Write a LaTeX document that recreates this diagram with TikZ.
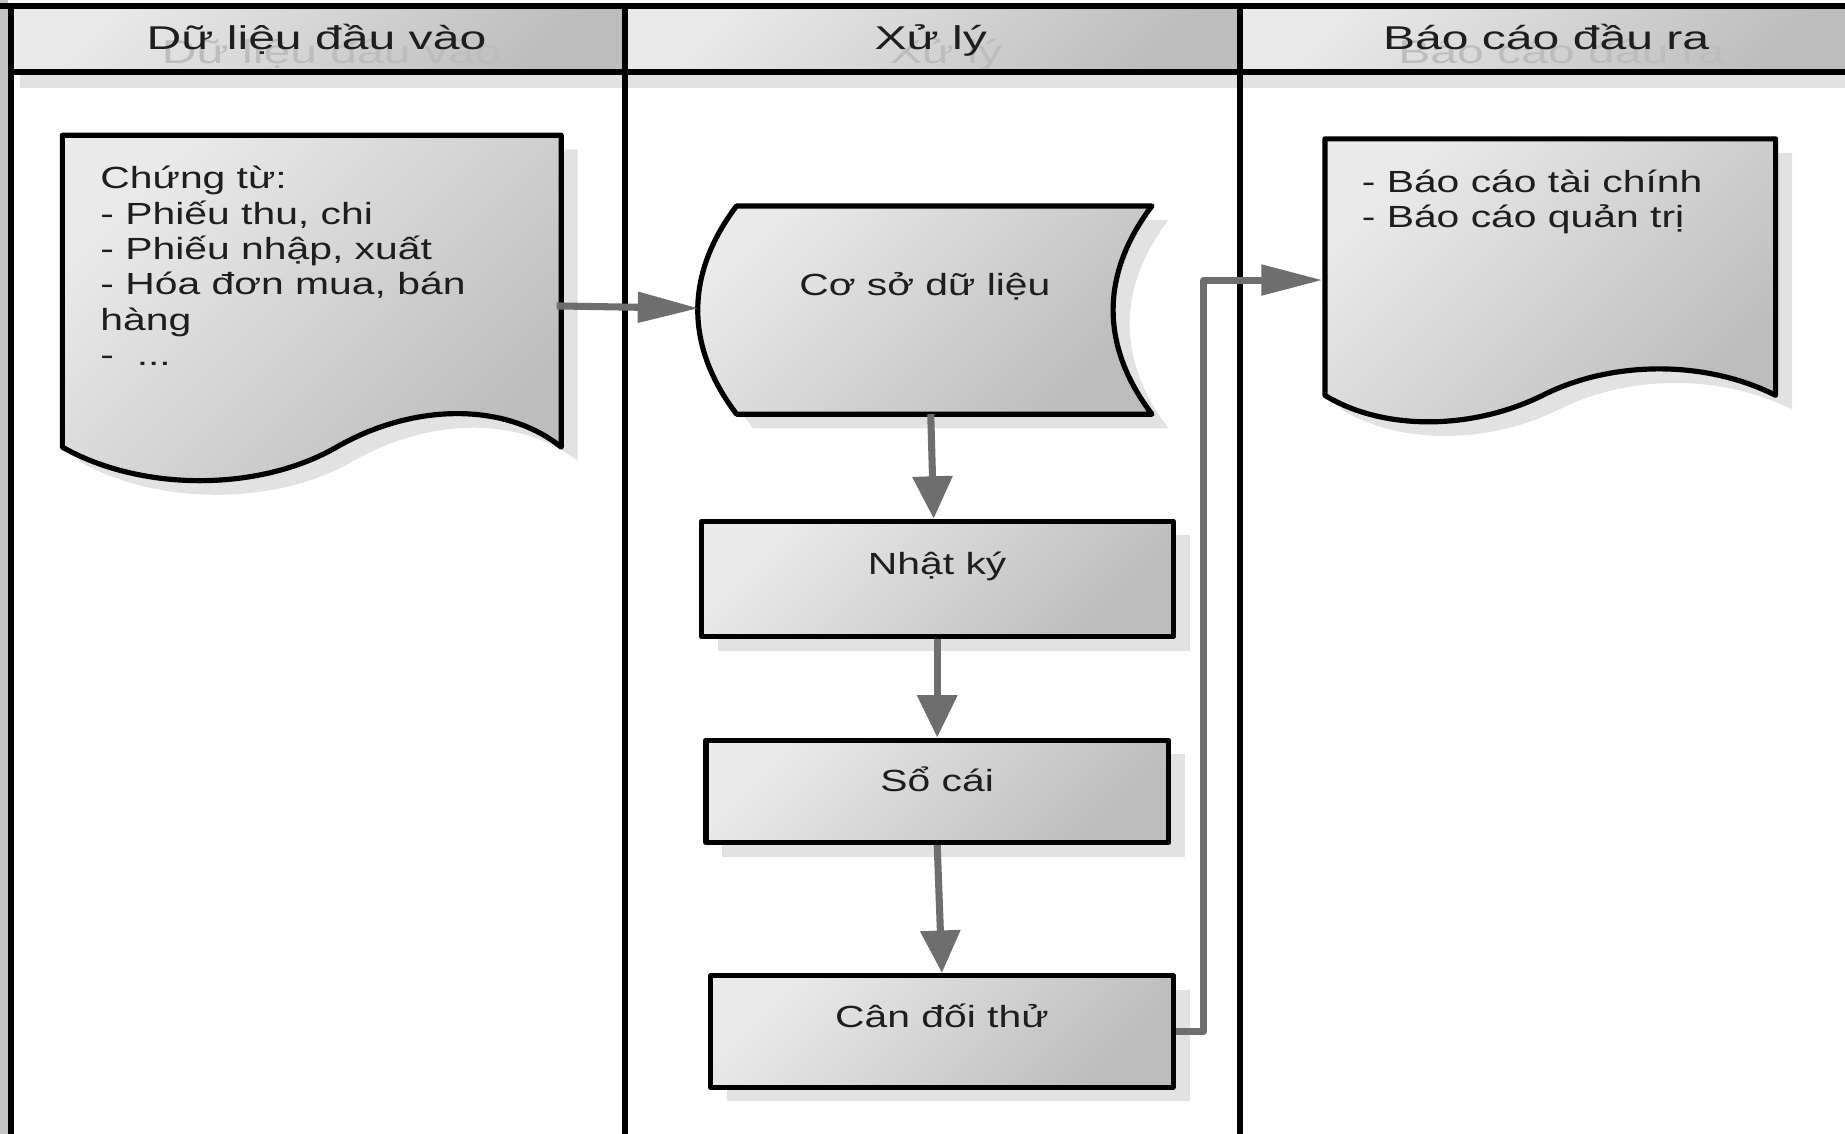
\documentclass[tikz,border=0pt]{standalone}
\usepackage{fontspec}
\newfontfamily\bodyfont{Liberation Sans}[FakeStretch=1.335]
\newfontfamily\headfont{Liberation Sans}[FakeStretch=1.46]
\usetikzlibrary{arrows.meta,shadows}
\definecolor{gA}{HTML}{EAEAEA}
\definecolor{gB}{HTML}{BDBDBD}
\definecolor{shd}{HTML}{E2E2E2}
\definecolor{arr}{HTML}{6E6E6E}
\definecolor{ink}{HTML}{1E1E1E}
\definecolor{ghost}{HTML}{BDBDBD}
\definecolor{edgegray}{HTML}{C4C4C4}
\begin{document}
\begin{tikzpicture}[x=0.5pt,y=-0.5pt,
  shapefill/.style={top color=gA,bottom color=gB,shading angle=45},
  shadowed/.style={drop shadow={shadow xshift=7pt,shadow yshift=-6pt,fill=shd,opacity=1}},
  outline/.style={draw=black,line width=2.2pt,line join=round},
  lane/.style={draw=black,line width=2.5pt},
  body/.style={font=\bodyfont\fontsize{13pt}{15pt}\selectfont,text=ink},
  head/.style={font=\headfont\fontsize{14pt}{16pt}\selectfont,text=ink,anchor=base,inner sep=0pt},
  headghost/.style={font=\headfont\fontsize{14pt}{16pt}\selectfont,text=ghost,anchor=base,inner sep=0pt},
  procbox/.style={outline,shapefill,shadowed,rectangle,inner sep=0pt,body},
  flow/.style={draw=arr,line width=3pt,line join=round},
  harrow/.style={flow,-{Triangle[length=26pt,width=12.5pt]}},
  varrow/.style={flow,-{Triangle[length=18pt,width=16.5pt]}},
]
\useasboundingbox (0,0) rectangle (1568,963.7);
\fill[white] (0,0) rectangle (1568,963.7);
\fill[edgegray] (0,0) rectangle (7,963.7);

% header
\fill[shd] (17,61) rectangle (1568,75);
\path[shapefill] (9,5) rectangle (531,61);
\path[shapefill] (531,5) rectangle (1054,61);
\path[shapefill] (1054,5) rectangle (1580,61);
\node[headghost] (h1g) at (282,54) {Dữ liệu đầu vào};
\node[headghost] (h2g) at (804,54) {Xử lý};
\node[headghost] (h3g) at (1327,54) {Báo cáo đầu ra};
\node[head] (h1) at (269,42) {Dữ liệu đầu vào};
\node[head] (h2) at (791,42) {Xử lý};
\node[head] (h3) at (1314,42) {Báo cáo đầu ra};
\draw[lane] (0,5) -- (1568,5);
\draw[lane] (9,61) -- (1568,61);
\draw[lane] (9,5) -- (9,964);
\draw[lane] (531,5) -- (531,964);
\draw[lane] (1054,5) -- (1054,964);

% input document
\path[outline,shapefill,shadowed] (53,115) -- (477,115) -- (477,380)
  .. controls (430,342) and (352,342) .. (286,380)
  .. controls (220,418) and (120,418) .. (53,380) -- cycle;
\node[body,align=left,anchor=north west,inner sep=0pt] (intext) at (85,141)
  {Chứng từ:\\- Phiếu thu, chi\\- Phiếu nhập, xuất\\- Hóa đơn mua, bán\\hàng\\-\ \ ...};
\coordinate (inR) at (473,260);

% database
\path[outline,shapefill,shadowed] (626,175) -- (979,175)
  .. controls (935,233) and (935,294) .. (979,352) -- (626,352)
  .. controls (582,294) and (582,233) .. (626,175) -- cycle;
\node[body,anchor=base,inner sep=0pt] (db) at (786,251) {Cơ sở dữ liệu};
\coordinate (dbL) at (594,262);
\coordinate (dbB) at (791,352);

% process boxes
\node[procbox,minimum width=200.5pt,text height=22.5pt,text depth=26.5pt] (nk) at (796.5,492) {Nhật ký};
\node[procbox,minimum width=196.5pt,text height=22pt,text depth=21.5pt] (sc) at (796.5,672.5) {Sổ cái};
\node[procbox,minimum width=196.5pt,text height=22pt,text depth=25.5pt] (cd) at (800.5,876.5) {Cân đối thử};

% output document
\path[outline,shapefill,shadowed] (1126,118) -- (1509,118) -- (1509,336)
  .. controls (1450,306) and (1370,306) .. (1311,336)
  .. controls (1250,366) and (1175,366) .. (1126,336) -- cycle;
\node[body,align=left,anchor=north west,inner sep=0pt] (outtext) at (1157,144)
  {- Báo cáo tài chính\\- Báo cáo quản trị};
\coordinate (outL) at (1124,238);
\coordinate (bend) at (1023,238);

% connectors
\draw[harrow] (inR) -- (dbL);
\draw[varrow] (dbB) -- ([xshift=-1.5pt]nk.north);
\draw[varrow] (nk.south) -- (sc.north);
\draw[varrow] (sc.south) -- (cd.north);
\draw[harrow] (cd.east) -| (bend) -- (outL);
\end{tikzpicture}
\end{document}
